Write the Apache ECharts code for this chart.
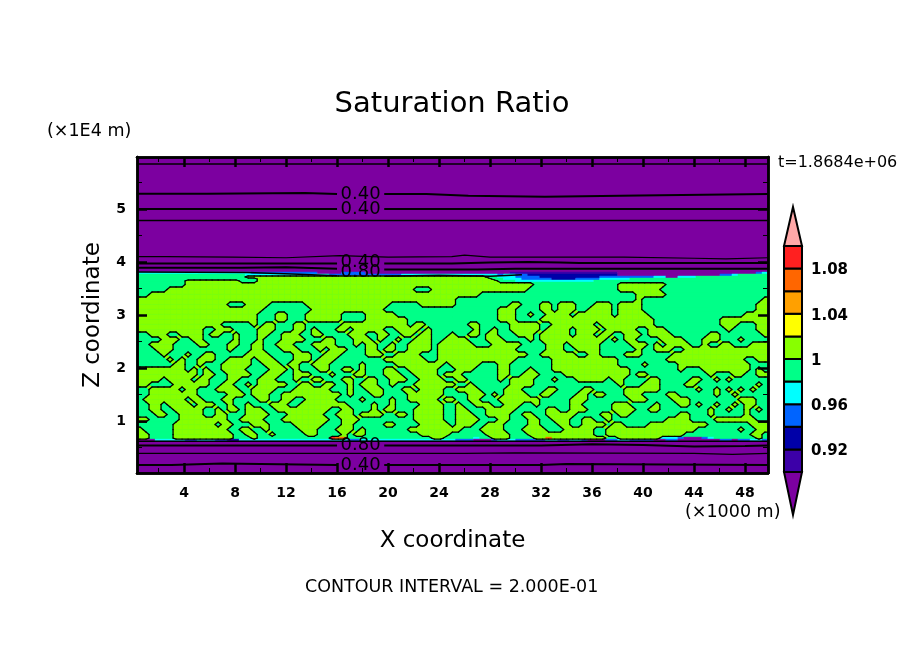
<!DOCTYPE html>
<html><head><meta charset="utf-8">
<style>html,body{margin:0;padding:0;background:#fff}#c{width:904px;height:654px}</style>
<script src="https://cdn.jsdelivr.net/npm/echarts@6/dist/echarts.min.js"></script>
</head><body><div id="c"></div>
<script>
// ---- data ----
const xTicks=[4,8,12,16,20,24,28,32,36,40,44,48];
const xMinor=[2,6,10,14,18,22,26,30,34,38,42,46];
const zTicks=[1,2,3,4,5];
const zMinor=[0.5,1.5,2.5,3.5,4.5,5.5];
const barTicks=[0.92,0.96,1,1.04,1.08];
const barEdges=[0.90,0.92,0.94,0.96,0.98,1.00,1.02,1.04,1.06,1.08];
const barColors=['#3c00a8','#0000a8','#0064ff','#00ffff','#00ff88','#88ff00','#ffff00','#ffa000','#ff6600','#ff2020'];
const colorAbove='#ffa8a8', colorBelow='#7c00a0';
const bandColor={P:'#7c00a0',I:'#3c00a8',D:'#0000a8',B:'#0064ff',C:'#00ffff',S:'#00ff88',G:'#88ff00',Y:'#ffff00',A:'#ffa000',O:'#ff6600',R:'#ff2020'};
const bandAbove={P:0,I:0,D:0,B:0,C:0,S:0,G:1,Y:1,A:1,O:1,R:1};
const zEdges=[5.98,3.811,3.774,3.736,3.698,3.660,3.623,3.528,3.434,3.340,3.245,3.151,3.057,2.962,2.868,2.774,2.679,2.585,2.491,2.396,2.302,2.208,2.113,2.019,1.925,1.830,1.736,1.642,1.547,1.453,1.358,1.264,1.170,1.075,0.981,0.887,0.792,0.698,0.660,0.623,0.02];
const fieldRows=[
'P',
'CCCCCCCCCC CCCCCCCCCB BBBBBBBBBB PPPPBBBBPP PPPPPPPPPP PPPPPPPPPP PPIIIIIIII IIIIIIIIII PPPPPPPPPP PPPPPPPPPP PPPBC',
'SSSSSSSSSS SSSSSSSSCC CCCCCCCCCC CCBBBBBBBB BBBBCCCCCC CCCCCCCCCC BCCBBDDDDD DDDDDDDDDD PPPPPPPPPP PPPPPPPBBC SSSSS',
'SSSSSSSSSS SSSSSSSSGG GGGGGGGGGG GGGGGGGGGG GGGGGGGGGG GGGGGGGGSS CCCBBBBDDD DDDDDDDBBB BBBBBBCCPP CCCSSSSSSS SSSSS',
'SSSSSSSSSS SSSSSSSSSS GGGGGGGGGG GGGGGGGGGG GGGGGGGGGG GGGGGGGGGS SCCCBBBBBD DDDBBBBCCC CCSSSSSSSS SSSSSSSSSS SSSSS',
'SSSSSSSSGG GGGGGGGSSS GGGGGGGGGG GGGGGGGGGG GGGGGGGGGG GGGGGGGGGG SSSCCCCCCC CCCCCCSSSS SSSSSSSSSS SSSSSSSSSS SSSSS',
'SSSSSSSSGG GGGGGGGGGG GGGGGGGGGG GGGGGGGGGG GGGGGGGGGG GGGGGGGGGG GGGGGGSSSS SSSSSSSSSS GGGGGGGGSS SSSSSSSSSS SSSSS',
'SSSSSGGGGG GGGGGGGGGG GGGGGGGGGG GGGGGGGGGG GGGGGGSSSG GGGGGGGGGG GGGGGSSSSS SSSSSSSSSS GGGGGGGSSS SSSSSSSSSS SSSSS',
'SSGGGGGGGG GGGGGGGGGG GGGGGGGGGG GGGGGGGGGG GGGGGGGGGG GGGGGGGSSS SSSSSSSSSS SSSSSSSSSS SSSGGGGGSS SSSSSSSSSS SSSSS',
'GGGGGGGGGG GGGGGGGGGG GGGGGGGGGG GGGGGGGGGG GGGGGGGGGG GGGSSSSSSS SSSSSSSSSS SSSSSSSSSS SSSGSSSSSS SSSSSSSSSS SSSSG',
'GGGGGGGGGG GGGGGSSSGG GGSSSSSSGG GGGGGGGGGG GGSSSSSGGG GGGSSSSSSS SSGGSSSGGS GGGSSSGGGS GGGGSSSSSS SSSSSSSSSS SSSGG',
'GGGGGGGGGG GGGGGGGGGG GSSSSSSSSG GGGGGGGGGG GSSSSSSSSS SSSSSSSSSS GGGSSSSGGS GGGSSGGGGS GGGGSSSSSS SSSSSSSSSS SSSGG',
'GGGGGGGGGG GGGGGGGGGG SSSGGSSSGG GGGGSSSSGG GGGSSSSSSS SSSSSSSSSS GGGSSGSSGG GGSGGGGGGS GGGGGSSSSS SSSSSSSSSS SGGGG',
'GGGGGGGGGG GGGGGGGGGG SSSGGSSSGG GGGGSSSSGG GGGGGSSSSS SSSSSSSSSS GGGSSSSGGG GGGGGGGGGG GGGGGGSSSS SSSSSSSGGG GGGGG',
'GGGGGGGGGG GGGGSSSSSG SGGSSSGGSS SSSSGGGGGG GGGGGSGGSS SSSSSGGSSS SSGGGGGSSG GGGGGGSGGG GGGGGGSSSS SSSSSSSGGG SSSGG',
'GGGGGGGGGG GSSGGGSSSS GGGSSSGGSG SSSGGSGGGG GSSGGGGSGS SSSSSSGSSG SSGGGGGSGG GGSGGGGSGG GGGSSGGGSS SSSSSSSSGS SSSGG',
'SSGGGSSGGG GSGGSSGSSS GGSSGGGSSG GSSSSGGGSS GGSSGGSGGS SSGSSGGSGG SSSGGGSGGG GGSGGGSGGS SGGGSGGGGS SSSSSGGSSS SSSSG',
'SSSSGGGSSG GSSSSSGSSS GSSSGGGGSS SGGSSSGGGS GSSGSSGGGS SGGGGSSSGG GSSSSGSGGG GGGGGGGGSG SGGSSSSGGG GSSSGGGSSS GSSSS',
'SSGGGGSSSS GGSSSGGSSG GSSGGGSSSG GGGSSSGSGG SSGSSGGGGS GGGGGGSSSG GGGGSSSSGG GSGGGGGSSS SSGGGSGSGG GGSSGSSGGS SSGGG',
'SSSGGGSSSS SSSSSGSSSG GSSSGGGSSS GSGGGSSSGG SGGSSGGGGS GGGGGGGGGG GGGSSSSSGG GSSGGGGSSS SSSGSSGGGS SGGGGGGGGG GGGGG',
'SSSSGSSSGS SGGSSSSSGG GGSSSSGGGS SGGGSSSSGG GSSGGGGSSS GGGGGGGGGG GGGGGSSGGG GGGSSGGSSS SGGGSSSSSG GGGGGGGGGG GGGGG',
'SSSSSGSGSS GGGSSGGGGS GGGSSSGGGS GGGSSSSSSS SGGGGGGGSS GGGGGGGGGG GGGSSSSSSG GGGGGGGGGG SSSSSSSSGG GGGGGGGGGG GSSGG',
'SSSSSSGGSS GSSSGGGGGS SGGGSGGSSG GGSSSSSGSS SSSGGGGGGG GSGGGGGSSS GGSSSSSSSG GGGGGGGGGG SSSSGSSSSS GGGGGGGGGG GGSSS',
'GGGGGGGGSG SGSSGGGGSS SSGGGSGSSS GGSSGGSGSS SGGSSGGGGG SSSGGGSSSS GGSSSGSSSG GGGGGGGGGG GGSSSSSSSS GSSSGGGGGG GGSGS',
'GGGGGGGGGG SGGSSGGGGS SGGGSSGGGS SSGSSSGGSS SGGGSSGGGG SGGGSSSSSS GGSSGGGSSS SGGGGGGGGG GGSGGSSSSS SSSSSGSSSG GSSGG',
'GGGGSGGGGS GGSSSGGSSS GGGSSSGSSG GSSSGGSSGG SSGGGSSGGG GSSGGSSSSS GSGGGGSSSG SSSGGGGGSG GSSSSGGSSS SSGGSSGSGS SSSSS',
'GGSSSSGGGG GGSSGGSSGS GGGGGSSGGS SGGSSGSGGG SSGSSSGGGG GGGSSGSSSS SSGGGGSSSS SSSSSSSSSS GSSSGGGSSS SGGSSSSSSS SSSGS',
'SSGGGGGSGG SSSGGGGSSG GGGSSSGGGG GGSSSGSSGG GSSSGGSGGG GSSGGGGSSS SGGGSSSSGG SSSSGGSSSS SGGGGGGSSS SSSGSSGSGS GSGSS',
'SSGGGGGGGG SSSSSGGGSG GGSSGGGGGG GGGGSGSSSG GSSSSGGGGG GSSSSGGGSG SGGGGSSGGS SSSGGSGGSS SGGGSSSSGG SSSSSSGSSG SSSSS',
'SGGGGGGGSG GSSSGGSSSS GGSSGGSSGG GGGSSSSGSS SSGSSGGGGG SGGSSGGSSS GGGGGGGSSS SSGGGSSSSS SSGGGSSSSG GGSSSSSSSS GGGSS',
'SSGGSGGGGS GGGSSGSSGS SSGGGSSGGG GGGGGSSSSG SSGSSSSGGG GSSGSSGGGS SGGGSSGSSS SSGGSSSSSG GGSSSSGSSS GGSGSSGSSG SGGSS',
'SSGGSSGGGG GSSGSGGSGG GSSGGGGGGG GGSSGGSSSG SGGSSSGGGG GSSGGSSSGG GGGSSSSSGG SSGGGSSSSG GGGSSGGSSS SSSSSGSSGS SGSGS',
'SSSGGSSGGG GSSGGSSSGG GGSSSGGGGG GSSGGGSGGG GSSGGSGGGG GSSGGGSSGG GGSSGGSSGG GGGSSSSGGS GGSSSSSSSS GGSSSGSSSS SGSSS',
'GGSSSSSGGG GGGGGSSGGG GSSSGGGGGG GGSSGGGSSS SSSSSSGGGG GSSGGGGSSS GGSSSGGSSG GGSSGGSSGS SSSSSSSSGG GGSSSSGGGG GGGSS',
'SSSSSSGGGG GGGSGGSSSG GGSSSSGGGG GSSSGGSSSS SGGSSSSGGG GGSGGGSSGG GSSSSGGSSS GGSSGGGGSG GSSSSGGGGG GGGGGSSSSS SSGGG',
'GSSSSSGGGG GGGGGSSGGS SGSSSSSGGG SSSGGGSGSS SSSSSGGGGG GGGGSSSGGG GSSSGGGGSS SGGGGGSSGG GGGGGGGGGG GGGSSSSSSS GSSGG',
'GGSSSSGGGG GGGGGGSSGG SSGSSSSSGG SSSSGSGGSS SSSSSSSGGG GGSSSSSSGG GGSSSGGGGG GGGGGGSSGG GGGGGGGGGG GSSSSSSSSS SSGGS',
'GGSSSSGGGG GGGGGGSSSG SSSSSSSSSS SSROOSSSSS SSSSSSSSSG GSSSSSCSSG GGSSSSGGOG GGGGGGGGSS GGGGGGGCCC BPPPBCSSSS SSSGS',
'PPPCCCCCBB CCCBBDDCCC CCCCCCCCCC CCCCCBBCCC CCCCCCCCCC CCCBBBPPPB CCCBBBBBCC BBCCBPPPBB CCBBBBPPBB PPPPPPPBBP BBCCB',
'P'
];
// contour polylines: x in 1000 m, z in 1E4 m, null = gap for the label
const contourA=[[0.3,5.85],[49.8,5.85]];
const contourB=[[0.3,5.285],[5.8,5.285],[5.8,5.30],[13.5,5.30],[13.5,5.28],[16,5.28],[null,null],[19.7,5.28],[23,5.28],[23,5.25],[26.3,5.25],[26.3,5.23],[32.3,5.23],[32.3,5.255],[39.7,5.255],[39.7,5.28],[49.8,5.28]];
const contourC=[[0.3,5.0],[16,5.0],[null,null],[19.7,5.0],[49.8,5.0]];
const contourD=[[0.3,4.78],[49.8,4.78]];
const contourE=[[0.3,4.10],[2.6,4.10],[2.6,4.09],[7.8,4.09],[7.8,4.08],[12,4.08],[16.2,4.12],[20,4.09],[25,4.10],[26,4.13],[28,4.09],[38.5,4.09],[38.5,4.07],[44,4.07],[44,4.06],[46.5,4.06],[49.8,4.08]];
const contourF=[[0.3,3.97],[16,3.97],[null,null],[19.7,3.97],[25,3.97],[28,3.99],[31,4.0],[33.5,3.99],[35,3.98],[49.8,3.98]];
const contourG=[[0.3,3.89],[8.5,3.89],[12,3.90],[16,3.87],[null,null],[19.7,3.86],[27,3.86],[30,3.87],[49.8,3.87]];
const contourH=[[0.3,3.81],[9,3.80],[13,3.77],[16,3.74],[null,null],[19.7,3.73],[24,3.75],[28,3.73],[30.5,3.76]];
const contourI=[[0.3,0.62],[49.8,0.62]];
const contourJ=[[0.3,0.54],[16,0.54],[null,null],[19.7,0.54],[32,0.54],[36,0.56],[40,0.55],[44,0.52],[48,0.53],[49.8,0.54]];
const contourK=[[0.3,0.39],[26,0.39],[26,0.40],[30,0.40],[30,0.39],[44,0.39],[44,0.37],[47,0.37],[47,0.39],[49.8,0.39]];
const contourL=[[0.3,0.17],[3,0.17],[3,0.20],[7,0.20],[7,0.17],[16,0.17],[null,null],[19.7,0.17],[32,0.17],[32,0.19],[34,0.19],[34,0.17],[49.8,0.17]];
const labelX=[17.85,17.85,17.85,17.85,17.85,17.85];
const labelZ=[5.28,5.0,4.0,3.81,0.547,0.17];
const labelText=['0.40','0.40','0.40','0.80','0.80','0.40'];

// ---- build ----
const XMIN=0.31,XMAX=49.8,NX=105;
const dx=(XMAX-XMIN)/NX;
const rows=fieldRows.map(r=>{let s=r.replace(/ /g,'');while(s.length<NX)s+=s[s.length-1];return s.slice(0,NX);});
const cells=[],hotCells=[],limePolys=[],edges=[];
rows.forEach((r,j)=>{
  let start=0;
  const fillOf=c=>bandAbove[c]?'S':c;
  for(let i=1;i<=NX;i++){
    if(i===NX||fillOf(r[i])!==fillOf(r[start])){
      cells.push([XMIN+start*dx,zEdges[j],XMIN+i*dx,zEdges[j+1],fillOf(r[start])]);
      start=i;
    }
  }
  for(let i=0;i<NX;i++) if(bandAbove[r[i]]&&r[i]!=='G')
    hotCells.push([XMIN+i*dx,zEdges[j],XMIN+(i+1)*dx,zEdges[j+1],r[i]]);
});
// contour at 1.00 traced between cell centres
const nodeX=[XMIN];for(let i=0;i<NX;i++)nodeX.push(XMIN+(i+0.5)*dx);nodeX.push(XMAX);
const nodeZ=rows.map((r,j)=>(zEdges[j]+zEdges[j+1])/2);
const isUp=(i,j)=>bandAbove[rows[j][Math.max(0,Math.min(NX-1,i-1))]]===1;
for(let j=0;j<rows.length-1;j++)for(let i=0;i<NX+1;i++){
  const c=[[i,j],[i+1,j],[i+1,j+1],[i,j+1]];
  const v=c.map(q=>isUp(q[0],q[1]));
  if(!v.some(Boolean))continue;
  const P=q=>[nodeX[q[0]],nodeZ[q[1]]];
  const poly=[],cross=[];
  for(let k=0;k<4;k++){
    const a=P(c[k]),b=P(c[(k+1)%4]);
    if(v[k])poly.push(a);
    if(v[k]!==v[(k+1)%4]){const m=[(a[0]+b[0])/2,(a[1]+b[1])/2];poly.push(m);cross.push(m);}
  }
  limePolys.push(poly);
  if(cross.length===2)edges.push([cross[0][0],cross[0][1],cross[1][0],cross[1][1]]);
  if(cross.length===4){
    const o=v[0]?1:0;
    edges.push([cross[o][0],cross[o][1],cross[o+1][0],cross[o+1][1]]);
    edges.push([cross[(o+2)][0],cross[(o+2)][1],cross[(o+3)%4][0],cross[(o+3)%4][1]]);
  }
}
const FONT='DejaVu Sans';
function axisX(pos,vals,len,w,lab){return {type:'value',gridIndex:0,position:pos,min:XMIN,max:XMAX,z:6,
  axisLine:{show:true,onZero:false,lineStyle:{color:'#000',width:2.5}},
  axisTick:{show:true,inside:true,length:len,customValues:vals,lineStyle:{color:'#000',width:w}},
  axisLabel:lab?{show:true,customValues:vals,color:'#000',fontFamily:FONT,fontSize:14,fontWeight:'bold',margin:13}:{show:false},splitLine:{show:false}};}
function axisZ(pos,vals,len,w,lab){return {type:'value',gridIndex:0,position:pos,min:0.02,max:5.98,z:6,
  axisLine:{show:true,onZero:false,lineStyle:{color:'#000',width:2.5}},
  axisTick:{show:true,inside:true,length:len,customValues:vals,lineStyle:{color:'#000',width:w}},
  axisLabel:lab?{show:true,customValues:vals,color:'#000',fontFamily:FONT,fontSize:14,fontWeight:'bold',margin:11}:{show:false},splitLine:{show:false}};}
function contour(d,w){return {type:'line',xAxisIndex:0,yAxisIndex:0,data:d,showSymbol:false,symbol:'none',connectNulls:false,z:4,
  lineStyle:{color:'#000',width:w},animation:false,silent:true};}
const xA=axisX('bottom',xTicks,10,2.5,true);
xA.name='X coordinate';xA.nameLocation='middle';xA.nameGap=57;
xA.nameTextStyle={fontFamily:FONT,fontSize:23,color:'#000'};
const zA=axisZ('left',zTicks,10,2.5,true);
zA.name='Z coordinate';zA.nameLocation='middle';zA.nameGap=32;zA.nameRotate=90;
zA.nameTextStyle={fontFamily:FONT,fontSize:23,color:'#000'};
const barSegs=barEdges.map((e,i)=>[e,i<barEdges.length-1?barEdges[i+1]:1.10,barColors[i]]);
const rectItem=src=>(p,api)=>{const a=api.coord([api.value(0),api.value(1)]),b=api.coord([api.value(2),api.value(3)]);
  const c=bandColor[src[p.dataIndex][4]];
  return {type:'rect',shape:{x:a[0],y:a[1],width:b[0]-a[0],height:b[1]-a[1]},style:{fill:c,stroke:c,lineWidth:0.4}};};

const option={
  animation:false,backgroundColor:'#fff',
  title:[{text:'Saturation Ratio',left:447,top:85,textAlign:'center',textStyle:{fontFamily:FONT,fontSize:29,fontWeight:'normal',color:'#000'}}],
  grid:[{left:137,top:157,width:631,height:316,containLabel:false},{left:784,top:246,width:18,height:226},{left:784,top:248,width:18,height:226}],
  xAxis:[xA,axisX('top',xTicks,10,2.5,false),axisX('bottom',xMinor,5,1,false),axisX('top',xMinor,5,1,false),
    {type:'value',gridIndex:1,min:0,max:1,show:false},{type:'value',gridIndex:2,min:0,max:1,show:false}],
  yAxis:[zA,axisZ('right',zTicks,10,2.5,false),axisZ('left',zMinor,5,1,false),axisZ('right',zMinor,5,1,false),
    {type:'value',gridIndex:1,min:0.9,max:1.1,show:false},
    {type:'value',gridIndex:2,position:'right',min:0.9,max:1.1,axisLine:{show:false},axisTick:{show:false},splitLine:{show:false},
     axisLabel:{show:true,customValues:barTicks,margin:9,color:'#000',fontFamily:FONT,fontSize:15,fontWeight:'bold',formatter:v=>String(+v.toFixed(2))}}],
  series:[
    {type:'custom',xAxisIndex:0,yAxisIndex:0,data:cells,clip:true,z:2,silent:true,progressive:0,
     dimensions:['x0','z0','x1','z1',{name:'band',type:'ordinal'}],encode:{x:[0,2],y:[1,3]},renderItem:rectItem(cells)},
    {type:'custom',xAxisIndex:0,yAxisIndex:0,data:limePolys.map(p=>p[0]),clip:true,z:2,silent:true,progressive:0,encode:{x:0,y:1},
     renderItem:(p,api)=>({type:'polygon',shape:{points:limePolys[p.dataIndex].map(q=>api.coord(q))},style:{fill:bandColor.G,stroke:bandColor.G,lineWidth:0.4}})},
    {type:'custom',xAxisIndex:0,yAxisIndex:0,data:hotCells,clip:true,z:2,silent:true,progressive:0,
     dimensions:['x0','z0','x1','z1',{name:'band',type:'ordinal'}],encode:{x:[0,2],y:[1,3]},renderItem:rectItem(hotCells)},
    {type:'custom',xAxisIndex:0,yAxisIndex:0,data:edges,clip:true,z:3,silent:true,progressive:0,encode:{x:[0,2],y:[1,3]},
     renderItem:(p,api)=>{const a=api.coord([api.value(0),api.value(1)]),b=api.coord([api.value(2),api.value(3)]);
       return {type:'line',shape:{x1:a[0],y1:a[1],x2:b[0],y2:b[1]},style:{stroke:'#000',lineWidth:1.3,lineCap:'round'}};}},
    contour(contourA,1.5),contour(contourB,2),contour(contourC,2),contour(contourD,1.5),contour(contourE,1.2),contour(contourF,2),
    contour(contourG,2),contour(contourH,1.5),contour(contourI,1.5),contour(contourJ,2),contour(contourK,1.2),contour(contourL,2),
    {type:'custom',xAxisIndex:0,yAxisIndex:0,data:labelX.map((x,i)=>[x,labelZ[i]]),z:5,silent:true,encode:{x:0,y:1},clip:false,
     renderItem:(p,api)=>{const a=api.coord([api.value(0),api.value(1)]);
       return {type:'text',x:a[0],y:a[1],style:{text:labelText[p.dataIndex],fill:'#000',font:'18px "DejaVu Sans"',textAlign:'center',textVerticalAlign:'middle'}};}},
    {type:'custom',xAxisIndex:4,yAxisIndex:4,data:barSegs.map(s=>[0,s[0],1,s[1]]),clip:false,z:3,silent:true,encode:{y:[1,3]},
     renderItem:(p,api)=>{const a=api.coord([api.value(0),api.value(1)]),b=api.coord([api.value(2),api.value(3)]);
       return {type:'rect',shape:{x:a[0],y:b[1],width:b[0]-a[0],height:a[1]-b[1]},style:{fill:barSegs[p.dataIndex][2],stroke:'#000',lineWidth:2}};}},
    {type:'custom',xAxisIndex:4,yAxisIndex:4,data:[[1.10,1.1345,colorAbove],[0.90,0.862,colorBelow]],clip:false,z:3,silent:true,encode:{y:[0,1]},
     renderItem:(p,api)=>{const l=api.coord([0,api.value(0)]),r=api.coord([1,api.value(0)]),t=api.coord([0.5,api.value(1)]);
       return {type:'polygon',shape:{points:[l,r,t]},style:{fill:p.dataIndex===0?colorAbove:colorBelow,stroke:'#000',lineWidth:2}};}}
  ],
  graphic:[
    {type:'text',left:47,top:122,style:{text:'(×1E4 m)',fill:'#000',font:'17.5px "DejaVu Sans"'}},
    {type:'text',left:685,top:503,style:{text:'(×1000 m)',fill:'#000',font:'17.5px "DejaVu Sans"'}},
    {type:'text',left:778,top:155,style:{text:'t=1.8684e+06',fill:'#000',font:'16px "DejaVu Sans"'}},
    {type:'text',left:305,top:578,style:{text:'CONTOUR INTERVAL = 2.000E-01',fill:'#000',font:'17.5px "DejaVu Sans"'}}
  ]
};
const chart=echarts.init(document.getElementById('c'),null,{renderer:'canvas',width:904,height:654});
chart.setOption(option);
</script></body></html>
